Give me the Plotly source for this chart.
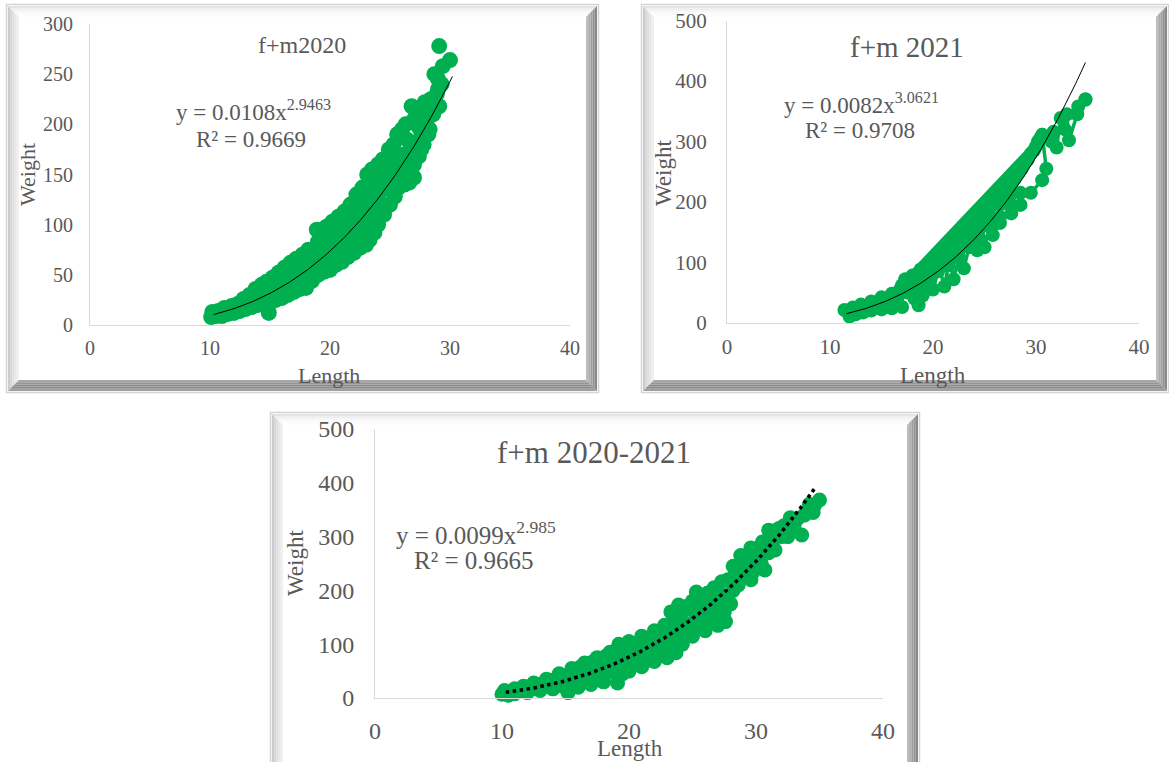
import plotly.graph_objects as go
import numpy as np

W, H = 1169, 762
GREEN = "#00B050"
TXT = "#595959"
FONT = "Liberation Serif, Times New Roman, serif"

# ---------------- data ----------------
# f+m 2020 (length, weight)
len_2020 = [10.1, 10.5, 11.0, 11.5, 12.0, 12.5, 13.0, 13.5, 14.0, 14.9, 15.0, 15.5, 16.0, 16.5, 17.0, 17.5,
            18.0, 18.5, 19.0, 19.5, 20.0, 20.5, 21.0, 21.5, 22.0, 22.5, 23.0, 23.3, 23.7, 24.0, 24.5, 25.0,
            25.4, 25.7, 26.2, 26.6, 27.0, 27.4, 27.8, 28.2, 28.6, 29.1,
            10.2, 10.7, 11.2, 11.8, 12.3, 12.8, 13.3, 13.8, 14.3, 14.7, 15.2, 15.7, 16.2, 16.7, 17.2, 17.7,
            18.2, 18.9, 19.3, 19.7, 20.2, 20.7, 21.2, 21.7, 22.2, 22.7, 23.1, 23.5, 24.0, 24.4, 24.9, 25.3,
            25.6, 26.0, 26.3, 26.8, 27.4, 27.9, 28.4, 28.7, 29.1, 29.4, 30.0,
            11.5, 12.5, 13.5, 14.5, 15.5, 16.5, 17.5, 18.3, 19.0, 19.5, 20.0, 20.5, 21.0, 21.5, 22.0, 22.5,
            23.0, 23.5, 24.0, 24.5, 25.0, 25.5, 26.0, 26.5, 27.0, 27.5, 28.0, 28.5, 29.0,
            18.0, 19.0, 20.0, 21.0, 22.0, 23.0, 24.0, 25.0, 26.0, 26.5, 27.0, 28.2, 29.0,
            10.8, 11.3, 12.2, 12.7, 13.2, 13.7, 14.2, 14.6, 15.3, 15.8, 16.3, 16.8, 17.3, 17.8, 18.5, 18.7,
            19.2, 19.7, 19.9, 20.3, 20.8, 21.3, 21.8, 22.3, 22.8, 23.3, 23.7, 24.2, 24.7, 25.2, 25.7, 26.2,
            26.4, 26.8, 27.2, 27.6, 27.8, 28.3, 28.6, 28.9, 29.3, 27.0, 25.0, 24.0, 23.0, 22.0, 21.0, 20.0, 19.0]
wt_2020 = [8, 9, 9, 11, 12, 14, 16, 18, 20, 12, 22, 25, 27, 30, 33, 36,
           37, 44, 50, 53, 55, 60, 63, 68, 72, 77, 80, 85, 92, 100, 110, 120,
           128, 137, 140, 142, 147, 168, 180, 190, 210, 218,
           13, 14, 17, 19, 21, 26, 30, 36, 40, 43, 47, 52, 57, 62, 66, 70,
           75, 95, 93, 98, 103, 108, 113, 120, 130, 137, 150, 155, 160, 165, 175, 180,
           190, 195, 200, 218, 212, 222, 225, 250, 278, 258, 264,
           14, 18, 24, 30, 36, 44, 52, 58, 70, 75, 80, 85, 90, 95, 100, 108,
           115, 125, 130, 138, 148, 158, 165, 172, 182, 195, 200, 215, 235,
           50, 60, 68, 77, 86, 98, 115, 135, 150, 158, 160, 207, 245,
           12, 13, 16, 20, 22, 26, 28, 35, 33, 40, 42, 50, 45, 58, 52, 68,
           82, 64, 88, 72, 95, 82, 106, 92, 118, 108, 140, 122, 150, 140, 170, 160,
           185, 165, 200, 175, 205, 195, 225, 230, 240, 205, 160, 145, 130, 115, 103, 92, 83]

# f+m 2021 (length, weight) in recorded order
len_2021 = [11.4, 11.9, 12.2, 12.5, 13.0, 13.2, 13.5, 14.0, 14.0, 14.5, 15.0, 15.0, 15.5, 16.0, 16.0, 16.5,
            17.0, 17.0,
            16.8, 30.6, 17.3, 30.2, 17.6, 29.8, 18.0, 30.4, 18.3, 29.2, 18.8, 30.0, 19.2, 28.8, 19.8, 29.5,
            20.3, 28.3, 20.8, 29.0, 21.3, 27.8, 22.0, 28.6, 22.5, 27.3, 23.2, 28.0, 23.8, 26.8, 24.5, 27.5,
            17.5, 18.2, 18.5, 18.6, 18.5, 19.0, 19.5, 20.0, 20.5, 20.5, 21.1, 21.5, 21.5, 22.0, 22.5, 22.5,
            23.0, 23.5, 23.5, 24.3, 24.5, 24.5, 25.0, 25.5, 25.5, 25.8, 26.5, 26.5, 26.5, 27.5, 27.5,
            27.6, 28.5, 28.5, 29.5, 30.6, 31.0, 30.6, 31.7, 31.5, 32.0, 32.4, 32.8, 33.0, 33.2, 34.0, 34.1,
            34.8, 34.8]
wt_2021 = [21, 10, 25, 14, 30, 17, 22, 20, 35, 28, 22, 42, 35, 24, 48, 42,
           26, 62,
           55, 311, 72, 300, 60, 285, 78, 305, 65, 270, 88, 292, 75, 262, 100, 280,
           85, 248, 110, 268, 95, 235, 120, 255, 110, 222, 140, 240, 130, 210, 155, 228,
           50, 40, 58, 29, 80, 45, 70, 55, 85, 100, 60, 95, 115, 72, 108, 135,
           90, 125, 145, 120, 140, 160, 125, 160, 175, 145, 165, 175, 195, 195, 210,
           181, 195, 215, 215, 236, 255, 311, 316, 300, 290, 339, 320, 345, 302, 345, 358,
           369, 370]

# f+m 2020-2021 (length, weight)
len_all = [10.0, 10.5, 11.0, 12.0, 13.0, 14.0, 15.2, 16.0, 17.0, 18.0, 19.1, 19.5, 20.0, 21.0, 22.0, 23.0,
           23.7, 24.2, 25.0, 26.0, 27.0, 27.6, 28.0, 28.6, 29.6, 30.7, 31.5, 32.5, 33.6, 34.5,
           10.2, 11.0, 11.7, 12.5, 13.5, 14.5, 15.5, 16.5, 17.5, 18.5, 19.2, 20.0, 21.0, 22.0, 22.8, 23.3,
           23.9, 24.5, 25.3, 26.0, 26.7, 27.3, 28.2, 28.8, 29.6, 30.5, 31.0, 31.8, 33.3, 34.2, 35.0,
           11.5, 12.5, 13.5, 14.5, 15.5, 16.5, 17.5, 18.5, 19.5, 20.5, 21.5, 22.5, 23.5, 24.5, 25.5, 26.5,
           27.5, 28.5, 29.5, 30.2, 31.2, 32.2, 33.0,
           14.0, 15.0, 16.0, 17.0, 18.0, 19.0, 20.0, 21.0, 22.0, 23.0, 24.0, 25.0, 26.0, 27.0,
           13.0, 15.0, 16.0, 17.0, 18.0, 19.0, 20.0, 21.0, 22.0, 24.0, 25.0, 26.0, 27.0,
           10.5, 11.2, 12.0, 12.8, 13.5, 14.2, 14.8, 15.8, 16.2, 16.8, 17.2, 17.8, 18.2, 18.8, 19.5, 20.3,
           20.6, 21.3, 21.6, 22.3, 22.6, 23.2, 23.5, 24.0, 24.2, 24.8, 25.0, 25.6, 25.8, 26.3, 26.2, 26.8,
           27.0, 27.5, 27.8, 28.2, 28.4, 28.9, 29.2, 29.8, 30.0, 30.4, 31.0, 32.0, 32.7, 33.8, 34.6, 26.0,
           25.0, 24.0, 23.0, 22.0, 21.0, 20.0, 19.0, 18.0, 17.0, 16.0, 15.0]
wt_all = [7, 5, 8, 10, 14, 17, 10, 20, 25, 30, 28, 45, 50, 58, 68, 75,
          84, 100, 115, 125, 135, 142, 175, 210, 220, 238, 275, 300, 303, 345,
          14, 17, 22, 28, 35, 45, 55, 65, 75, 85, 100, 105, 115, 125, 135, 160,
          173, 170, 197, 185, 205, 216, 245, 265, 279, 290, 312, 315, 334, 360, 368,
          12, 17, 22, 28, 35, 42, 50, 60, 70, 80, 92, 105, 118, 135, 150, 165,
          185, 220, 250, 265, 290, 320, 320,
          25, 30, 32, 40, 45, 55, 65, 72, 85, 95, 105, 130, 145, 160,
          25, 40, 50, 58, 70, 80, 90, 100, 112, 150, 165, 160, 180,
          10, 14, 20, 22, 28, 35, 22, 28, 58, 35, 68, 40, 78, 48, 88, 60,
          98, 68, 108, 78, 120, 88, 140, 120, 160, 125, 180, 140, 175, 155, 195, 145,
          200, 160, 220, 200, 232, 240, 260, 235, 275, 250, 270, 300, 335, 340, 358, 170,
          140, 135, 110, 100, 85, 78, 68, 58, 48, 40, 35]

# power fits shown on the chart: y = a * x^b (coefficient, exponent, first length, last length)
fit_2020 = (0.0108, 2.9463, 10.3, 30.2)
fit_2021 = (0.0082, 3.0621, 11.6, 34.8)
fit_all = (0.0099, 2.985, 10.3, 34.7)

titles = ["f+m2020", "f+m 2021", "f+m 2020-2021"]
equations = ["y = 0.0108x<sup>2.9463</sup>", "y = 0.0082x<sup>3.0621</sup>", "y = 0.0099x<sup>2.985</sup>"]
r2_texts = ["R² = 0.9669", "R² = 0.9708", "R² = 0.9665"]
x_ticks = [0, 10, 20, 30, 40]
y_ticks_2020 = [0, 50, 100, 150, 200, 250, 300]
y_ticks_500 = [0, 100, 200, 300, 400, 500]


def pxx(x):
    return x / W


def pxy(y):
    return 1 - y / H


fig = go.Figure()

# ---------------- panel frames ----------------
shapes = []


def poly(points, color):
    d = "M " + " L ".join(f"{pxx(x):.5f},{pxy(y):.5f}" for x, y in points) + " Z"
    shapes.append(dict(type="path", path=d, xref="paper", yref="paper", fillcolor=color,
                       line=dict(width=0), layer="below"))


def frame(x0, y0, x1, y1, b=11):
    shapes.append(dict(type="rect", xref="paper", yref="paper", x0=pxx(x0 - 1.5), x1=pxx(x1 + 1.5),
                       y0=pxy(y0 - 1.5), y1=pxy(y1 + 1.5), fillcolor="#ffffff",
                       line=dict(color="#d4d4d4", width=1.5), layer="below"))
    n = 5
    lefts = ["#cccccc", "#d6d6d6", "#dfdfdf", "#e8e8e8", "#f0f0f0"]
    tops = ["#e4e4e4", "#eeeeee", "#f5f5f5", "#fafafa", "#fdfdfd"]
    rights = ["#8a8a8a", "#939393", "#9e9e9e", "#ababab", "#bdbdbd"]
    bottoms = ["#a0a0a0", "#8c8c8c", "#8a8a8a", "#959595", "#a6a6a6"]
    for i in range(n):
        t0 = b * i / n
        t1 = b * (i + 1) / n
        poly([(x0 + t0, y0 + t0), (x0 + t1, y0 + t1), (x0 + t1, y1 - t1), (x0 + t0, y1 - t0)], lefts[i])
        poly([(x0 + t0, y0 + t0), (x1 - t0, y0 + t0), (x1 - t1, y0 + t1), (x0 + t1, y0 + t1)], tops[i])
        poly([(x1 - t0, y0 + t0), (x1 - t1, y0 + t1), (x1 - t1, y1 - t1), (x1 - t0, y1 - t0)], rights[i])
        poly([(x0 + t0, y1 - t0), (x1 - t0, y1 - t0), (x1 - t1, y1 - t1), (x0 + t1, y1 - t1)], bottoms[i])


frame(8, 6, 597, 391)
frame(643, 6, 1167, 391)
frame(272, 414, 918, 775)

# ---------------- panels ----------------
panels = [
    dict(ax="", L=len_2020, Wt=wt_2020, fit=fit_2020, mode="markers", msize=16,
         xpx=(90, 570), ypx=(325, 24), yr=300, yt=y_ticks_2020, tick=20, tfont=24, efont=23, afont=22,
         title=(302, 45), eq=(253, 110), r2=(251, 140), wl=(28, 175), ll=(329, 375), dash="solid", lw=1,
         standx=5, standy=12),
    dict(ax="2", L=len_2021, Wt=wt_2021, fit=fit_2021, mode="lines+markers", msize=14,
         xpx=(727, 1139), ypx=(322.7, 20.7), yr=500, yt=y_ticks_500, tick=21, tfont=29, efont=23, afont=23,
         title=(907, 47), eq=(861, 103), r2=(860, 130), wl=(663, 173), ll=(933, 375), dash="solid", lw=1,
         standx=5, standy=15),
    dict(ax="3", L=len_all, Wt=wt_all, fit=fit_all, mode="markers", msize=15,
         xpx=(375, 883), ypx=(698, 429), yr=500, yt=y_ticks_500, tick=24, tfont=31, efont=25, afont=23,
         title=(594, 452), eq=(476, 533), r2=(474, 560), wl=(295, 563), ll=(630, 748), dash="dot", lw=3.5,
         standx=11, standy=15),
]

layout_axes = {}
for p in panels:
    a = p["ax"]
    xa, ya = "x" + a, "y" + a
    fig.add_trace(go.Scatter(
        x=p["L"], y=p["Wt"], mode=p["mode"], xaxis=xa, yaxis=ya,
        marker=dict(color=GREEN, size=p["msize"], line=dict(width=0)),
        line=dict(color=GREEN, width=3.5), cliponaxis=False, showlegend=False, hoverinfo="skip"))
    a_, b_, lo, hi = p["fit"]
    xf = np.linspace(lo, hi, 200)
    yf = a_ * xf ** b_
    fig.add_trace(go.Scatter(
        x=xf, y=yf, mode="lines", xaxis=xa, yaxis=ya,
        line=dict(color="#000000", width=p["lw"], dash=p["dash"]),
        showlegend=False, hoverinfo="skip", cliponaxis=False))

    layout_axes["xaxis" + a] = dict(
        domain=[pxx(p["xpx"][0]), pxx(p["xpx"][1])], range=[0, 40], anchor=ya,
        tickvals=x_ticks, ticktext=[str(v) for v in x_ticks], showgrid=False, zeroline=False,
        showline=True, linecolor="#d9d9d9", linewidth=1, ticks="", automargin=False,
        tickfont=dict(family=FONT, size=p["tick"], color=TXT), ticklabelstandoff=p["standx"])
    layout_axes["yaxis" + a] = dict(
        domain=[pxy(p["ypx"][0]), pxy(p["ypx"][1])], range=[0, p["yr"]], anchor=xa,
        tickvals=p["yt"], ticktext=[str(v) for v in p["yt"]], showgrid=False, zeroline=False,
        showline=True, linecolor="#d9d9d9", linewidth=1, ticks="", automargin=False,
        tickfont=dict(family=FONT, size=p["tick"], color=TXT), ticklabelstandoff=p["standy"])

fig.update_layout(**layout_axes)

annotations = []


def ann(text, x, y, size, angle=0):
    annotations.append(dict(text=text, x=pxx(x), y=pxy(y), xref="paper", yref="paper",
                            xanchor="center", yanchor="middle", showarrow=False, textangle=angle,
                            font=dict(family=FONT, size=size, color=TXT)))


for i, p in enumerate(panels):
    ann(titles[i], p["title"][0], p["title"][1], p["tfont"])
    ann(equations[i], p["eq"][0], p["eq"][1], p["efont"])
    ann(r2_texts[i], p["r2"][0], p["r2"][1], p["efont"])
    ann("Weight", p["wl"][0], p["wl"][1], p["afont"], -90)
    ann("Length", p["ll"][0], p["ll"][1], p["afont"])

fig.update_layout(
    width=W, height=H, autosize=False,
    margin=dict(l=0, r=0, t=0, b=0, pad=0, autoexpand=False),
    paper_bgcolor="#ffffff", plot_bgcolor="rgba(0,0,0,0)",
    shapes=shapes, annotations=annotations, showlegend=False,
)

fig.write_html("out.html", config={"displayModeBar": False},
               post_script="document.body.style.margin='0';document.body.style.padding='0';"
                           "document.body.style.overflow='hidden';")
